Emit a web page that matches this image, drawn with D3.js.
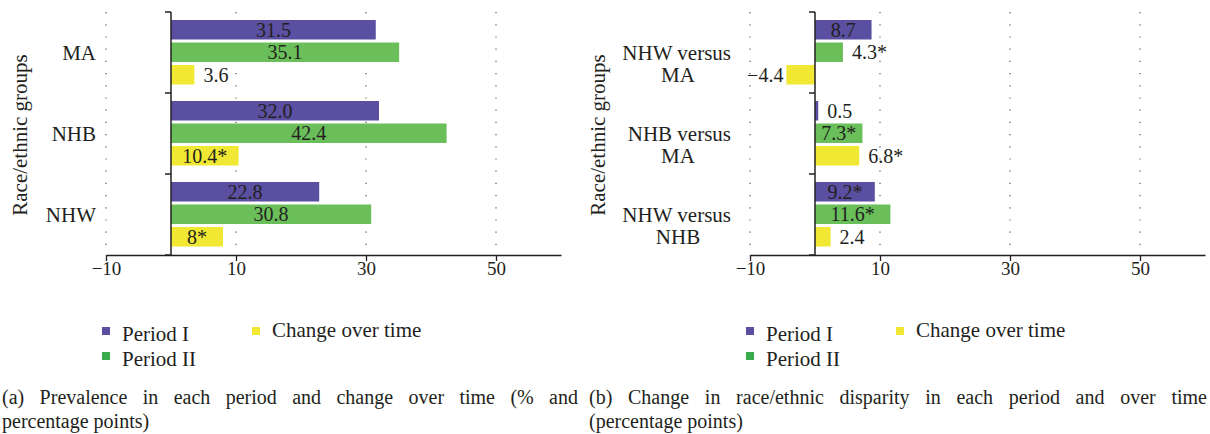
<!DOCTYPE html>
<html>
<head>
<meta charset="utf-8">
<script src="https://cdn.jsdelivr.net/npm/d3@7"></script>
<style>
  body { margin: 0; background: #fff; }
  text { font-family: "Liberation Serif", "DejaVu Serif", serif; fill: #231f20; }
</style>
</head>
<body>
<svg id="chart" width="1210" height="434"></svg>
<script>
// panel (a): prevalence
const groupsA = [["MA"], ["NHB"], ["NHW"]];
const periodIA = [31.5, 32.0, 22.8];
const periodIIA = [35.1, 42.4, 30.8];
const changeA = [3.6, 10.4, 8];
const periodILabelsA = ["31.5", "32.0", "22.8"];
const periodIILabelsA = ["35.1", "42.4", "30.8"];
const changeLabelsA = ["3.6", "10.4*", "8*"];

// panel (b): disparity
const groupsB = [["NHW versus", "MA"], ["NHB versus", "MA"], ["NHW versus", "NHB"]];
const periodIB = [8.7, 0.5, 9.2];
const periodIIB = [4.3, 7.3, 11.6];
const changeB = [-4.4, 6.8, 2.4];
const periodILabelsB = ["8.7", "0.5", "9.2*"];
const periodIILabelsB = ["4.3*", "7.3*", "11.6*"];
const changeLabelsB = ["\u22124.4", "6.8*", "2.4"];

const tickValues = [-10, 10, 30, 50];
const tickLabels = ["\u221210", "10", "30", "50"];
const seriesNames = ["Period I", "Period II", "Change over time"];
const barColors = ["#5a4fa0", "#6abf5b", "#f0e832"];
const legendColors = ["#5a4fa0", "#3aaa4a", "#f0e832"];
const yTitle = "Race/ethnic groups";

const FONT = "Liberation Serif";
const svg = d3.select("#chart");

function drawPanel(opts) {
  const g = svg.append("g");
  const x = d3.scaleLinear().domain([-10, 60]).range([opts.left, opts.left + 455]);
  const y = d3.scaleBand().domain(d3.range(opts.groups.length)).range([12, 255]);
  const inner = d3.scaleBand().domain([0, 1, 2])
    .range([8, y.bandwidth() - 8.5]).paddingInner(0.133);

  // dotted grid
  g.selectAll(".grid").data(tickValues).enter().append("line")
    .attr("x1", d => x(d)).attr("x2", d => x(d))
    .attr("y1", 12).attr("y2", 255)
    .attr("stroke", "#555").attr("stroke-width", 1.2)
    .attr("stroke-dasharray", "1.2,11");

  // bottom axis
  const xAxis = d3.axisBottom(x).tickValues(tickValues)
    .tickFormat((d, i) => tickLabels[i]).tickSize(6).tickSizeOuter(0);
  const ax = g.append("g").attr("transform", "translate(0,255)").call(xAxis);
  ax.select(".domain").attr("stroke", "#231f20").attr("stroke-width", 1.5);
  ax.selectAll(".tick line").attr("stroke", "#231f20").attr("stroke-width", 1.3);
  ax.selectAll(".tick text").attr("font-size", 19).attr("dy", "0.6em")
    .attr("font-family", FONT).attr("fill", "#231f20");

  const series = [opts.p1, opts.p2, opts.ch];
  const labels = [opts.l1, opts.l2, opts.l3];

  opts.groups.forEach((grp, gi) => {
    const gy = y(gi);
    series.forEach((vals, si) => {
      const v = vals[gi];
      const by = gy + inner(si);
      const bw = inner.bandwidth();
      const x0 = x(Math.min(0, v)), w = Math.abs(x(v) - x(0));
      g.append("rect").attr("x", x0).attr("y", by)
        .attr("width", w).attr("height", bw).attr("fill", barColors[si]);
      const t = g.append("text").attr("y", by + bw / 2).attr("dy", "0.36em")
        .attr("font-family", FONT).attr("font-size", 20).text(labels[si][gi]);
      // wide bars carry their label inside, narrow ones just past the end
      if (w >= 45) {
        t.attr("x", x(v / 2)).attr("text-anchor", "middle");
      } else if (v < 0) {
        t.attr("x", x(v) - 3).attr("text-anchor", "end");
      } else {
        t.attr("x", x(v) + 9).attr("text-anchor", "start");
      }
    });
    // category label
    const cy = gy + y.bandwidth() / 2;
    grp.forEach((line, li) => {
      const t = g.append("text").attr("font-family", FONT).attr("font-size", 21)
        .attr("dy", "0.35em").attr("y", cy + li * 22.5).text(line);
      if (grp.length === 1) {
        t.attr("x", opts.left - 10).attr("text-anchor", "end");
      } else if (li === 0) {
        t.attr("x", opts.left - 19).attr("text-anchor", "end");
      } else {
        t.attr("x", opts.left - 72).attr("text-anchor", "middle");
      }
    });
  });

  // y axis at zero with separator ticks
  g.append("line").attr("x1", x(0)).attr("x2", x(0)).attr("y1", 12).attr("y2", 255)
    .attr("stroke", "#231f20").attr("stroke-width", 1.5);
  g.selectAll(".ytick").data(d3.range(opts.groups.length + 1)).enter().append("line")
    .attr("x1", x(0) - 6).attr("x2", x(0))
    .attr("y1", d => 12 + d * y.bandwidth()).attr("y2", d => 12 + d * y.bandwidth())
    .attr("stroke", "#231f20").attr("stroke-width", 1.5);

  // y title
  g.append("text").attr("transform", `translate(${opts.titleX},135) rotate(-90)`)
    .attr("text-anchor", "middle").attr("dy", "0.35em")
    .attr("font-family", FONT).attr("font-size", 21)
    .text(yTitle);

  // legend
  const leg = [
    { x: opts.left, y: 331 },
    { x: opts.left, y: 356 },
    { x: opts.left + 150, y: 331 }
  ];
  seriesNames.forEach((name, i) => {
    g.append("rect").attr("x", leg[i].x - 4).attr("y", leg[i].y - 4)
      .attr("width", 8).attr("height", 8).attr("fill", legendColors[i]);
    g.append("text").attr("x", leg[i].x + 16).attr("y", leg[i].y + (i === 2 ? -1 : 3))
      .attr("dy", "0.35em").attr("font-family", FONT).attr("font-size", 21).text(name);
  });

  // caption, first line justified by widening word gaps
  const c1 = g.append("text").attr("x", opts.capX).attr("y", 404)
    .attr("font-family", FONT).attr("font-size", 20)
    .attr("fill", "#333").text(opts.cap1);
  const natural = c1.node().getComputedTextLength();
  const gaps = opts.cap1.trim().split(/\s+/).length - 1;
  c1.attr("word-spacing", Math.max(0, (opts.capW - natural) / gaps));
  g.append("text").attr("x", opts.capX).attr("y", 428)
    .attr("font-family", FONT).attr("font-size", 20)
    .attr("fill", "#333").text(opts.cap2);
}

drawPanel({
  left: 106, titleX: 20, groups: groupsA,
  p1: periodIA, p2: periodIIA, ch: changeA,
  l1: periodILabelsA, l2: periodIILabelsA, l3: changeLabelsA,
  capX: 2, capW: 576,
  cap1: "(a)  Prevalence in each period and change over time (% and",
  cap2: "percentage points)"
});

drawPanel({
  left: 750, titleX: 598, groups: groupsB,
  p1: periodIB, p2: periodIIB, ch: changeB,
  l1: periodILabelsB, l2: periodIILabelsB, l3: changeLabelsB,
  capX: 589, capW: 618,
  cap1: "(b)  Change in race/ethnic disparity in each period and over time",
  cap2: "(percentage points)"
});
</script>
</body>
</html>
